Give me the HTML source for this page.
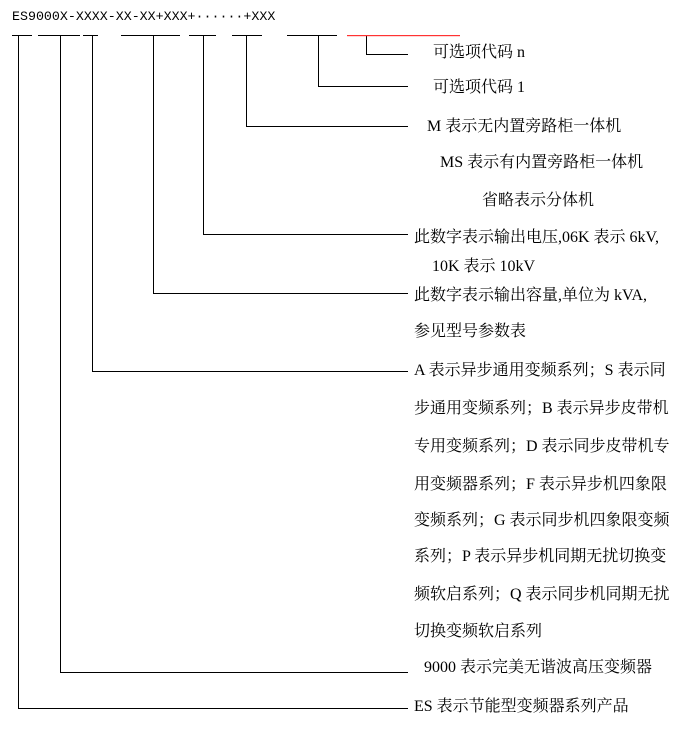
<!DOCTYPE html>
<html><head><meta charset="utf-8"><style>
body{margin:0;width:692px;height:743px;background:#fff;position:relative;overflow:hidden;font-family:"Liberation Serif","Noto Serif CJK SC","Noto Sans CJK SC",serif;font-size:16px;color:#000}
.t{position:absolute;white-space:nowrap;line-height:18px}
svg{position:absolute;left:0;top:0}
</style></head><body>
<svg width="692" height="743">
<g stroke="#000" stroke-width="1" fill="none">
<path d="M12 35.5H32M38 35.5H80M83 35.5H98M121 35.5H180M189 35.5H216M232 35.5H262M287 35.5H337"/>
<path d="M18.5 36V708.5H408"/>
<path d="M60.5 36V672.5H408"/>
<path d="M92.5 36V371.5H408"/>
<path d="M153.5 36V293.5H408"/>
<path d="M203.5 36V234.5H408"/>
<path d="M246.5 36V126.5H408"/>
<path d="M318.5 36V86.5H408"/>
<path d="M366.5 36V54.5H408"/>
</g>
<rect x="347" y="35" width="113" height="1.2" fill="#f33"/>
</svg>
<div class="t" style="left:12px;top:8px;font-family:'Liberation Mono',monospace;font-size:13.3px">ES9000X-XXXX-XX-XX+XXX+······+XXX</div>
<div class="t" style="left:433px;top:44px">可选项代码 n</div>
<div class="t" style="left:433px;top:79px">可选项代码 1</div>
<div class="t" style="left:427px;top:118px">M 表示无内置旁路柜一体机</div>
<div class="t" style="left:440px;top:154px">MS 表示有内置旁路柜一体机</div>
<div class="t" style="left:482px;top:192px">省略表示分体机</div>
<div class="t" style="left:414px;top:229px">此数字表示输出电压,06K 表示 6kV,</div>
<div class="t" style="left:432px;top:258px">10K 表示 10kV</div>
<div class="t" style="left:414px;top:287px">此数字表示输出容量,单位为 kVA,</div>
<div class="t" style="left:414px;top:323px">参见型号参数表</div>
<div class="t" style="left:414px;top:362px">A 表示异步通用变频系列；S 表示同</div>
<div class="t" style="left:414px;top:400px">步通用变频系列；B 表示异步皮带机</div>
<div class="t" style="left:414px;top:438px">专用变频系列；D 表示同步皮带机专</div>
<div class="t" style="left:414px;top:476px">用变频器系列；F 表示异步机四象限</div>
<div class="t" style="left:414px;top:512px">变频系列；G 表示同步机四象限变频</div>
<div class="t" style="left:414px;top:548px">系列；P 表示异步机同期无扰切换变</div>
<div class="t" style="left:414px;top:586px">频软启系列；Q 表示同步机同期无扰</div>
<div class="t" style="left:414px;top:623px">切换变频软启系列</div>
<div class="t" style="left:424px;top:659px">9000 表示完美无谐波高压变频器</div>
<div class="t" style="left:414px;top:698px">ES 表示节能型变频器系列产品</div>
</body></html>
